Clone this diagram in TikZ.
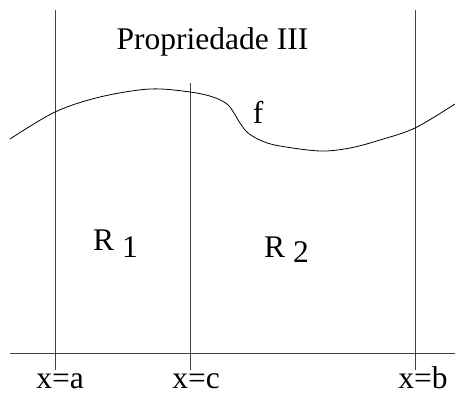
\documentclass[tikz,border=0pt]{standalone}
\usepackage{fontspec}
\setmainfont{Liberation Serif}
\tikzset{
  guide/.style={draw=black!75, line width=0.8pt},
  graphline/.style={draw=black, line width=0.8pt},
  lbl/.style={font=\fontsize{31.5}{36}\selectfont, inner sep=0pt, anchor=base},
}
\begin{document}
\begin{tikzpicture}[x=1pt,y=-1pt]
\useasboundingbox (0,0) rectangle (455,394);
% coordinates
\coordinate (ax0) at (10,353);
\coordinate (ax1) at (455,353);
\coordinate (at) at (55,10);
\coordinate (ab) at (55,370);
\coordinate (ct) at (190,83);
\coordinate (cb) at (190,370);
\coordinate (bt) at (415,10);
\coordinate (bb) at (415,370);
% axis and vertical lines
\draw[guide] (ax0) -- (ax1);
\draw[guide] (at) -- (ab);
\draw[guide] (ct) -- (cb);
\draw[guide] (bt) -- (bb);
% curve f
\draw[graphline] plot[smooth, tension=0.55] coordinates {
  (10,139) (55,112) (100,97) (150,89) (190,92) (213,97) (227,104)
  (234,113) (240,123) (248,133) (262,141) (280,146) (320,151) (350,148)
  (380,140) (415,128) (455,104)};
% labels
\node[lbl] (title) at (212.5,49) {Propriedade III};
\node[lbl] (f) at (258,123) {f};
\node[lbl, anchor=base west] (r1) at (93,250) {R \raisebox{-7pt}{1}};
\node[lbl, anchor=base west] (r2) at (264,257) {R \raisebox{-5pt}{2}};
\node[lbl] (xa) at (60,388.5) {x=a};
\node[lbl] (xc) at (196,388.5) {x=c};
\node[lbl] (xb) at (423,388.5) {x=b};
\end{tikzpicture}
\end{document}
